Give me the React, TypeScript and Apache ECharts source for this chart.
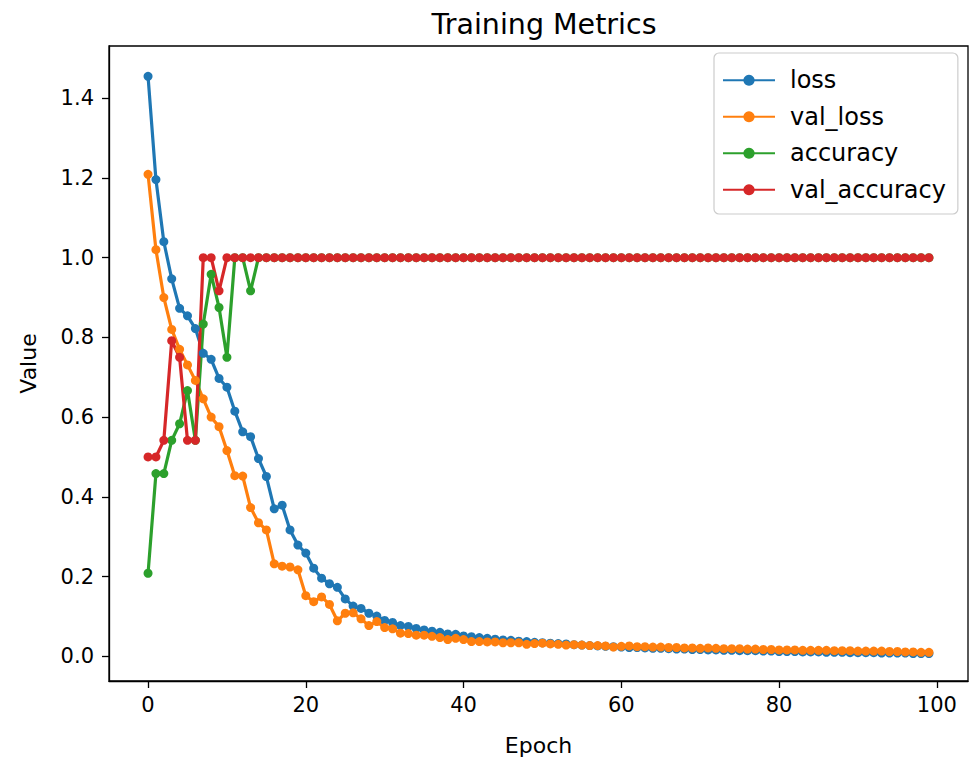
import React, { useEffect, useRef } from "react";
import * as echarts from "echarts";

const seriesNames = ["loss", "val_loss", "accuracy", "val_accuracy"];
const colors = ["#1f77b4", "#ff7f0e", "#2ca02c", "#d62728"];
const xTicks = [0, 20, 40, 60, 80, 100];
const yTicks = [0, 0.2, 0.4, 0.6, 0.8, 1.0, 1.2, 1.4];

const loss = [
  1.455, 1.196, 1.04, 0.947, 0.873, 0.854, 0.822, 0.76, 0.745, 0.697,
  0.675, 0.615, 0.563, 0.551, 0.496, 0.451, 0.37, 0.379, 0.317, 0.279,
  0.259, 0.221, 0.196, 0.182, 0.173, 0.144, 0.126, 0.12, 0.108, 0.101,
  0.09, 0.085, 0.077, 0.075, 0.07, 0.066, 0.063, 0.06, 0.056, 0.055,
  0.051, 0.049, 0.047, 0.045, 0.043, 0.041, 0.04, 0.038, 0.037, 0.035,
  0.034, 0.033, 0.032, 0.031, 0.029, 0.028, 0.027, 0.026, 0.025, 0.024,
  0.023, 0.022, 0.022, 0.021, 0.02, 0.02, 0.019, 0.018, 0.018, 0.017,
  0.017, 0.016, 0.016, 0.015, 0.015, 0.014, 0.014, 0.014, 0.013, 0.013,
  0.012, 0.012, 0.012, 0.011, 0.011, 0.011, 0.01, 0.01, 0.01, 0.009,
  0.009, 0.009, 0.009, 0.008, 0.008, 0.008, 0.008, 0.007, 0.007, 0.007,
];

const valLoss = [
  1.209, 1.02, 0.9, 0.82, 0.77, 0.731, 0.692, 0.646, 0.6, 0.576,
  0.516, 0.453, 0.452, 0.373, 0.335, 0.317, 0.232, 0.226, 0.224, 0.217,
  0.152, 0.137, 0.149, 0.13, 0.089, 0.108, 0.109, 0.094, 0.077, 0.087,
  0.072, 0.069, 0.058, 0.057, 0.053, 0.053, 0.05, 0.047, 0.042, 0.045,
  0.042, 0.037, 0.037, 0.036, 0.036, 0.034, 0.034, 0.034, 0.03, 0.032,
  0.033, 0.031, 0.03, 0.028, 0.029, 0.028, 0.027, 0.027, 0.026, 0.023,
  0.025, 0.026, 0.024, 0.024, 0.023, 0.023, 0.022, 0.022, 0.021, 0.021,
  0.02, 0.021, 0.02, 0.019, 0.019, 0.019, 0.018, 0.018, 0.017, 0.017,
  0.016, 0.016, 0.016, 0.015, 0.015, 0.015, 0.015, 0.014, 0.014, 0.014,
  0.013, 0.013, 0.013, 0.013, 0.012, 0.012, 0.011, 0.011, 0.01, 0.01,
];

const accuracy = [
  0.2083, 0.4583, 0.4583, 0.5417, 0.5833, 0.6667, 0.5417, 0.8333, 0.9583, 0.875,
  0.75, 1, 1, 0.9167, 1, 1, 1, 1, 1, 1,
  1, 1, 1, 1, 1, 1, 1, 1, 1, 1,
  1, 1, 1, 1, 1, 1, 1, 1, 1, 1,
  1, 1, 1, 1, 1, 1, 1, 1, 1, 1,
  1, 1, 1, 1, 1, 1, 1, 1, 1, 1,
  1, 1, 1, 1, 1, 1, 1, 1, 1, 1,
  1, 1, 1, 1, 1, 1, 1, 1, 1, 1,
  1, 1, 1, 1, 1, 1, 1, 1, 1, 1,
  1, 1, 1, 1, 1, 1, 1, 1, 1, 1,
];

const valAccuracy = [
  0.5, 0.5, 0.5417, 0.7917, 0.75, 0.5417, 0.5417, 1, 1, 0.9167,
  1, 1, 1, 1, 1, 1, 1, 1, 1, 1,
  1, 1, 1, 1, 1, 1, 1, 1, 1, 1,
  1, 1, 1, 1, 1, 1, 1, 1, 1, 1,
  1, 1, 1, 1, 1, 1, 1, 1, 1, 1,
  1, 1, 1, 1, 1, 1, 1, 1, 1, 1,
  1, 1, 1, 1, 1, 1, 1, 1, 1, 1,
  1, 1, 1, 1, 1, 1, 1, 1, 1, 1,
  1, 1, 1, 1, 1, 1, 1, 1, 1, 1,
  1, 1, 1, 1, 1, 1, 1, 1, 1, 1,
];

const FONT = "DejaVu Sans";

export default function App() {
  const ref = useRef<HTMLDivElement>(null);
  useEffect(() => {
    if (!ref.current) return;
    const chart = echarts.init(ref.current, null, { renderer: "svg" });
    const all = [loss, valLoss, accuracy, valAccuracy];
    chart.setOption({
      animation: false,
      backgroundColor: "#ffffff",
      title: {
        text: "Training Metrics",
        left: 539,
        textAlign: "center",
        top: 5,
        textStyle: { fontFamily: FONT, fontSize: 28.5, fontWeight: "normal", color: "#000" },
      },
      legend: {
        data: seriesNames,
        orient: "vertical",
        left: 714,
        top: 53,
        padding: [14, 12, 11, 8],
        itemWidth: 52,
        itemHeight: 14,
        itemGap: 10,
        borderColor: "#cccccc",
        borderWidth: 1.2,
        borderRadius: 5,
        backgroundColor: "rgba(255,255,255,0.8)",
        textStyle: { fontFamily: FONT, fontSize: 24, color: "#000", lineHeight: 26.5, padding: [0, 0, 0, 10] },
      },
      grid: {
        left: 109,
        right: 5,
        top: 46,
        bottom: 75,
        show: true,
        borderColor: "#000",
        borderWidth: 1.3,
        backgroundColor: "transparent",
      },
      xAxis: {
        type: "value",
        min: -4.95,
        max: 103.95,
        name: "Epoch",
        nameLocation: "middle",
        nameGap: 53,
        nameTextStyle: { fontFamily: FONT, fontSize: 22, color: "#000" },
        splitLine: { show: false },
        axisLine: { show: true, onZero: false, lineStyle: { color: "#000", width: 1.3 } },
        axisTick: { show: true, customValues: xTicks, length: 7, lineStyle: { color: "#000", width: 1.3 } },
        axisLabel: {
          customValues: xTicks,
          fontFamily: FONT,
          fontSize: 21,
          color: "#000",
          margin: 13,
        },
      },
      yAxis: {
        type: "value",
        min: -0.062,
        max: 1.531,
        name: "Value",
        nameLocation: "middle",
        nameRotate: 90,
        nameGap: 70,
        nameTextStyle: { fontFamily: FONT, fontSize: 22, color: "#000" },
        splitLine: { show: false },
        axisLine: { show: true, onZero: false, lineStyle: { color: "#000", width: 1.3 } },
        axisTick: { show: true, customValues: yTicks, length: 7, lineStyle: { color: "#000", width: 1.3 } },
        axisLabel: {
          customValues: yTicks,
          fontFamily: FONT,
          fontSize: 21,
          color: "#000",
          margin: 15,
          formatter: (v: number) => v.toFixed(1),
        },
      },
      series: seriesNames.map((name, k) => ({
        name,
        type: "line",
        data: all[k].map((v, i) => [i, v]),
        symbol: "circle",
        symbolSize: 9,
        showAllSymbol: true,
        color: colors[k],
        lineStyle: { width: 3.2, color: colors[k] },
        itemStyle: { color: colors[k], borderWidth: 0 },
        emphasis: { disabled: true },
      })),
    });
    return () => chart.dispose();
  }, []);
  return (
    <div
      ref={ref}
      style={{ position: "absolute", left: 0, top: 0, width: 973, height: 761 }}
    />
  );
}
